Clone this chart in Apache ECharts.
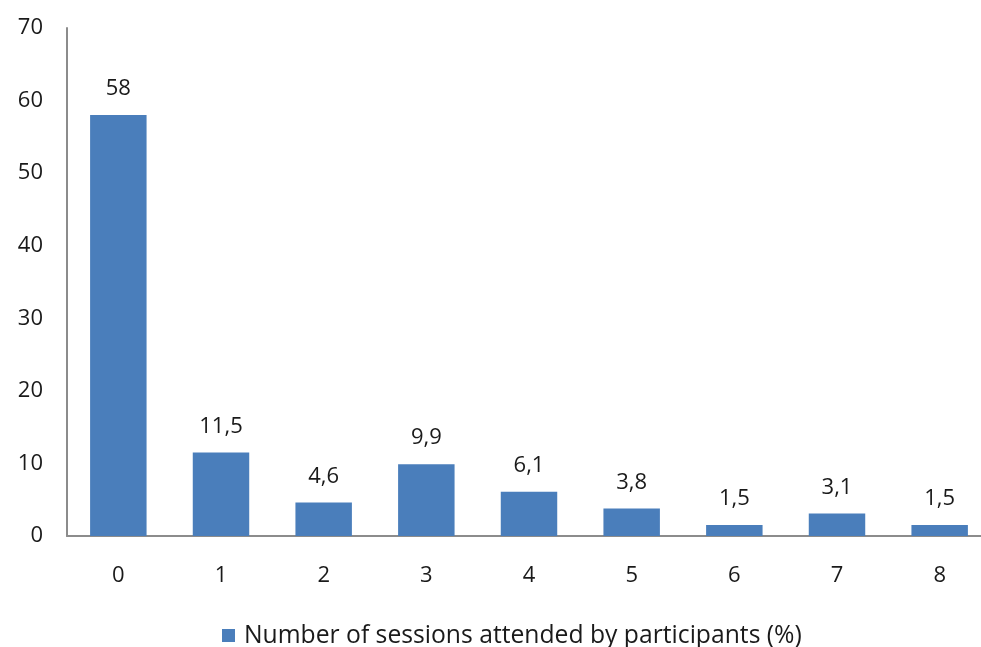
<!DOCTYPE html>
<html>
<head>
<meta charset="utf-8">
<script src="https://cdn.jsdelivr.net/npm/echarts@6/dist/echarts.min.js"></script>
<style>
  html, body { margin: 0; padding: 0; background: #ffffff; }
  #chart { width: 981px; height: 647px; }
</style>
</head>
<body>
<div id="chart"></div>
<script>
// Sessions attended (category) and share of participants in percent
const sessions = ['0', '1', '2', '3', '4', '5', '6', '7', '8'];
const shares = [58, 11.5, 4.6, 9.9, 6.1, 3.8, 1.5, 3.1, 1.5];
const seriesName = 'Number of sessions attended by participants (%)';
const yTicks = { min: 0, max: 70, interval: 10 };

const fontFamily = '"Open Sans", "Noto Sans", sans-serif';
const textColor = '#1a1a1a';
const barColor = '#4a7ebb';
const axisColor = '#8c8c8c';

const chart = echarts.init(document.getElementById('chart'), null, { renderer: 'canvas' });
chart.setOption({
  backgroundColor: '#ffffff',
  animation: false,
  textStyle: { fontFamily: fontFamily },
  // the plot runs a little past the right edge of the canvas
  grid: { left: 67, top: 28, width: 924, bottom: 111, containLabel: false, outerBoundsMode: 'none' },
  legend: {
    top: 618,
    left: 217,
    itemWidth: 13,
    itemHeight: 13,
    itemGap: 10,
    icon: 'rect',
    textStyle: { fontSize: 24.7, color: textColor, fontFamily: fontFamily, padding: [0, 0, 0, 4] },
    data: [seriesName]
  },
  xAxis: {
    type: 'category',
    data: sessions,
    axisLine: { lineStyle: { color: axisColor, width: 2 } },
    axisTick: { show: false },
    axisLabel: { fontSize: 22, color: textColor, margin: 29, fontFamily: fontFamily }
  },
  yAxis: {
    type: 'value',
    min: yTicks.min,
    max: yTicks.max,
    interval: yTicks.interval,
    axisLine: { show: true, lineStyle: { color: axisColor, width: 2 } },
    axisTick: { show: false },
    splitLine: { show: false },
    axisLabel: { fontSize: 22, color: textColor, margin: 24, fontFamily: fontFamily }
  },
  series: [{
    name: seriesName,
    type: 'bar',
    data: shares,
    barWidth: '55%',
    itemStyle: { color: barColor },
    label: {
      show: true,
      position: 'top',
      distance: 15,
      fontSize: 22,
      color: textColor,
      fontFamily: fontFamily,
      formatter: p => String(p.value).replace('.', ',')
    }
  }]
});
</script>
</body>
</html>
